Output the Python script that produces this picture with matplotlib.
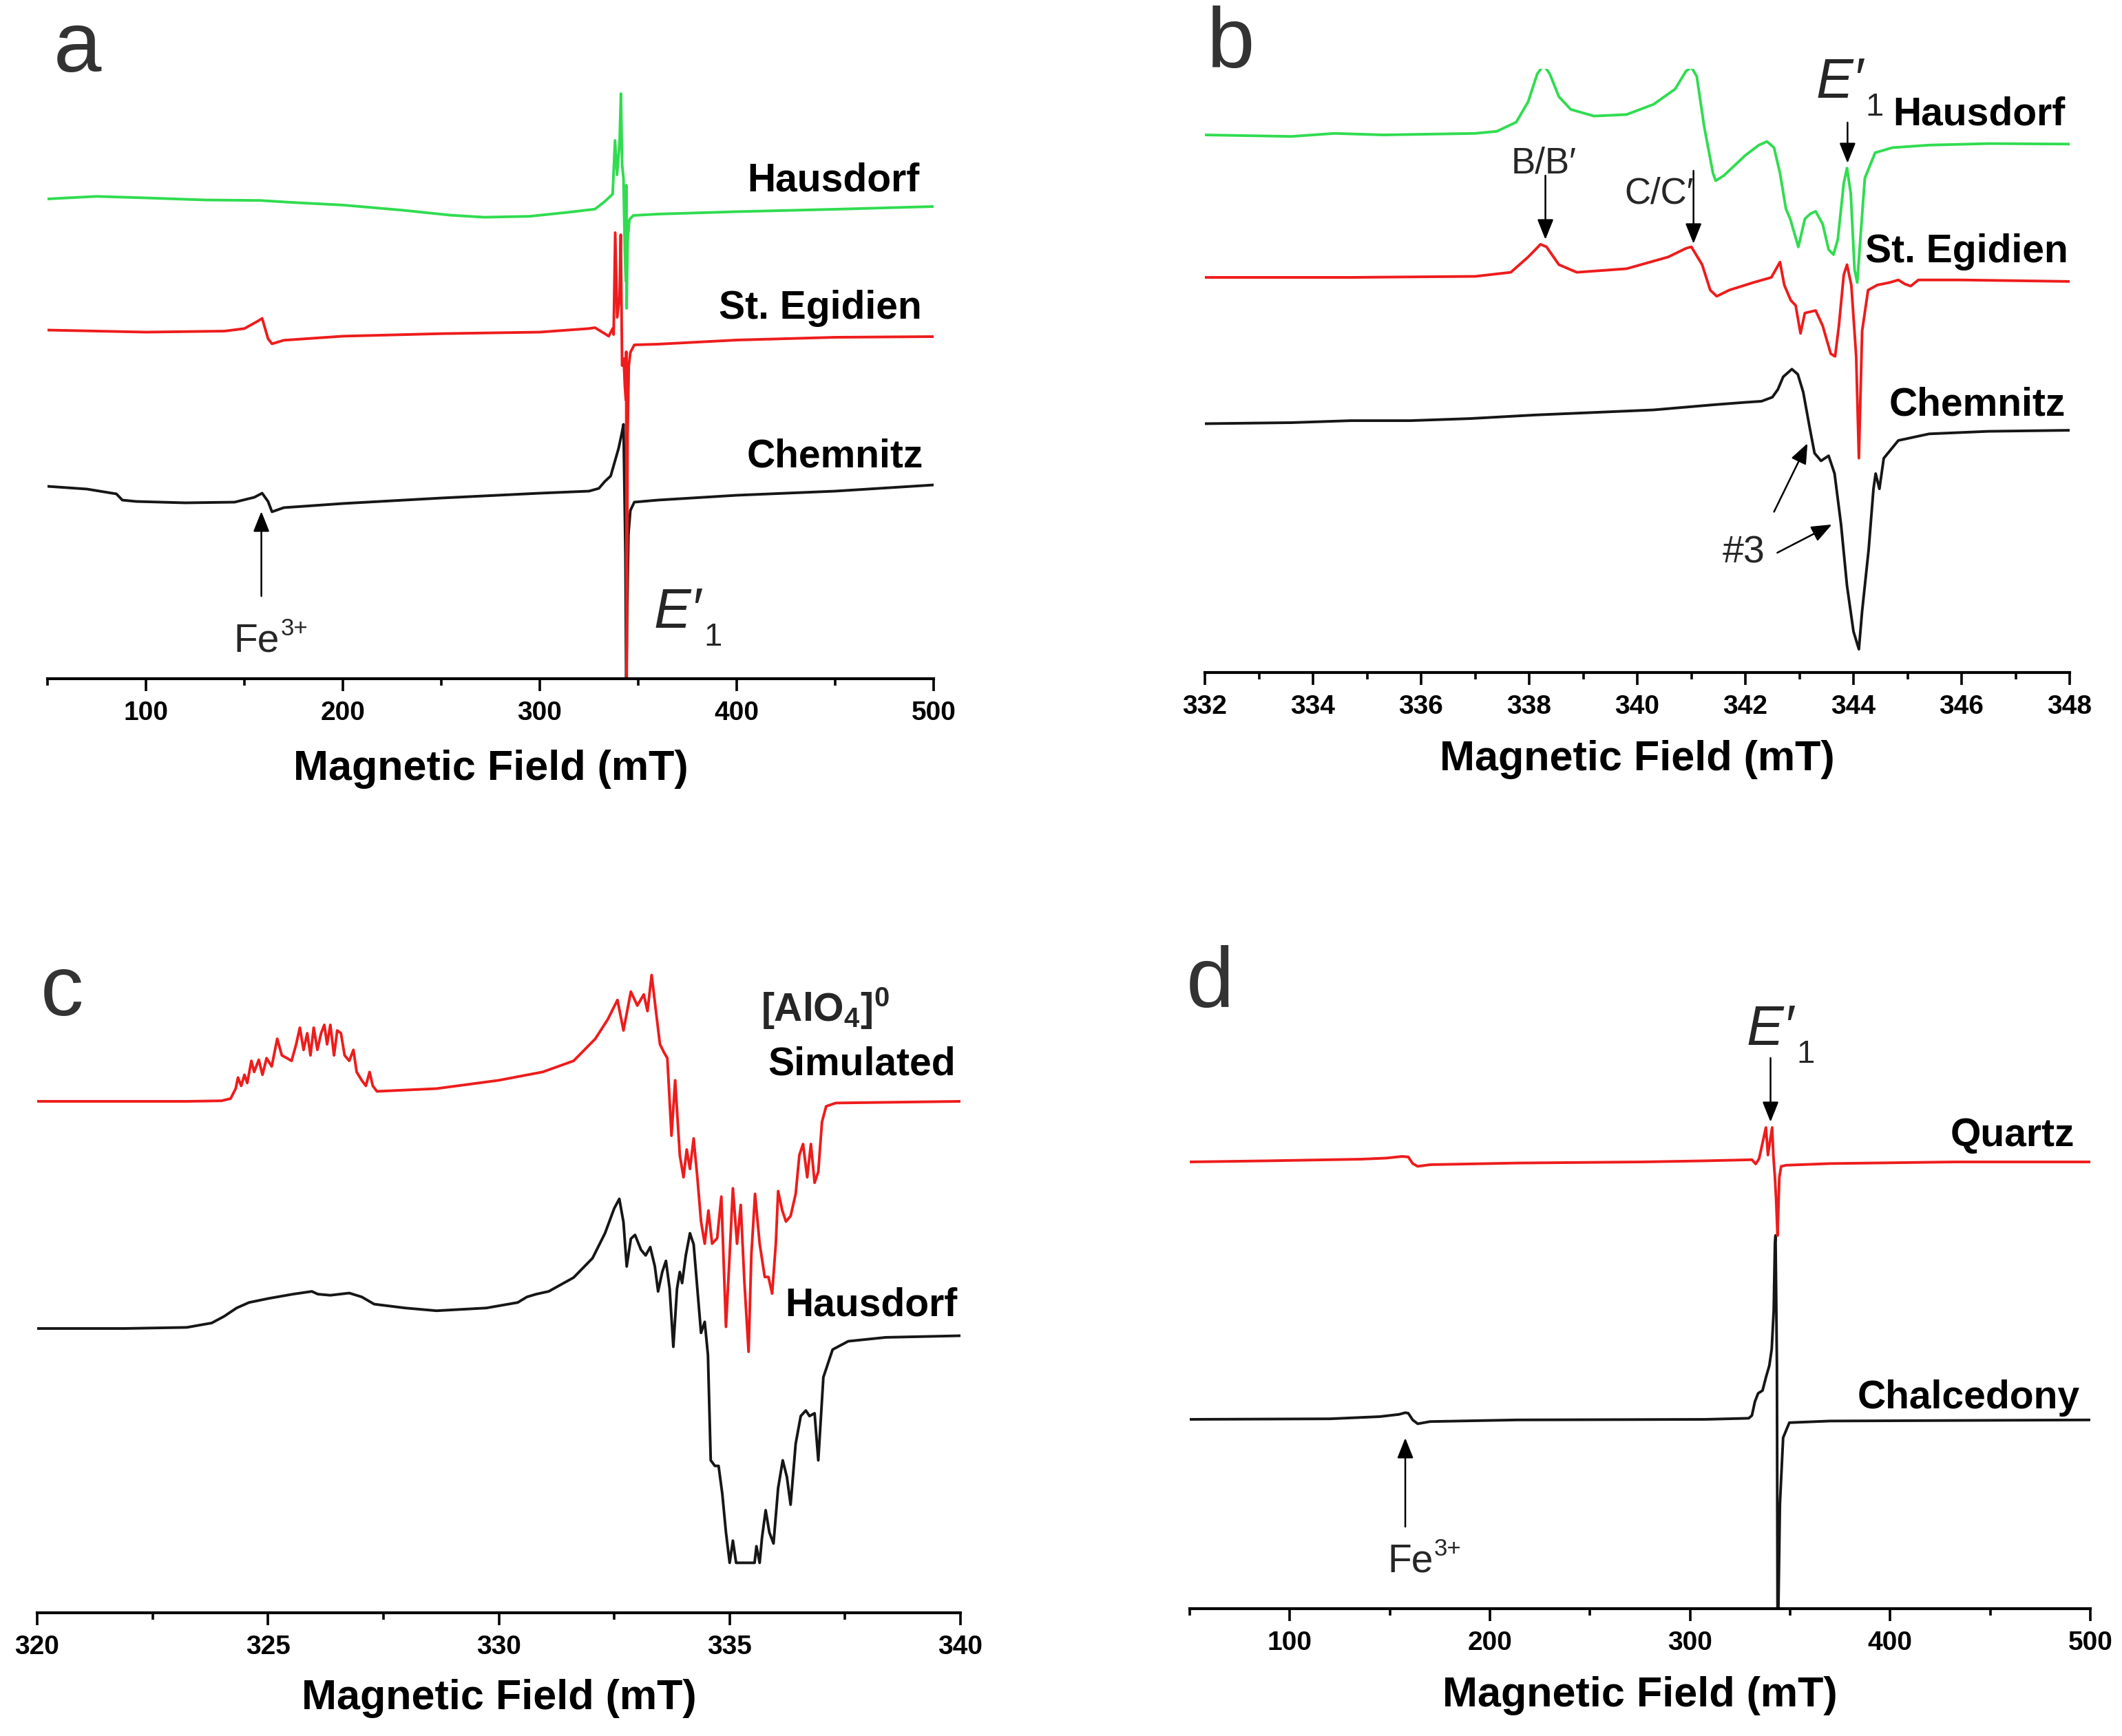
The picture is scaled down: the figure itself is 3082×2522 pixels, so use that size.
# EPR spectra: 4 panels (a-d)
import matplotlib
matplotlib.use("Agg")
import matplotlib.pyplot as plt
from matplotlib.ticker import MultipleLocator

plt.rcParams['font.family'] = ['Liberation Sans', 'DejaVu Sans']
plt.rcParams['mathtext.fontset'] = 'custom'
plt.rcParams['mathtext.rm'] = 'Liberation Sans'
plt.rcParams['mathtext.it'] = 'Liberation Sans:italic'
plt.rcParams['mathtext.bf'] = 'Liberation Sans:bold'

# ---------------- data (field in mT, intensity in a.u.) ----------------
# panel a : wide scan
a_haus_x = [50, 60, 75, 100, 130, 158, 175, 200, 230, 255, 272, 295, 315, 328, 333, 337,
            338.2, 339.2, 340.5, 341.2, 341.8, 342.5, 343.2, 343.7, 343.9, 344.1, 344.6,
            345.5, 347.5, 360, 400, 450, 500]
a_haus_y = [0, 0.15, 0.37, 0.15, -0.15, -0.22, -0.52, -0.89, -1.63, -2.37, -2.66, -2.52, -1.92,
            -1.48, -0.37, 0.7, 8.5, 3.5, 8.0, 15.3, 5.0, 3.0, -8.0, -12.0, 2.0, -15.9, -6.0,
            -3.0, -2.4, -2.2, -1.85, -1.5, -1.1]
a_egid_x = [50, 100, 140, 150, 157, 159, 162, 164, 170, 200, 250, 300, 325, 328, 333, 335, 337,
            337.5, 338.3, 339.3, 340.5, 341.1, 341.8, 342.6, 343.2, 343.7, 343.9, 344.1, 344.6,
            345.2, 346, 348, 360, 400, 450, 500]
a_egid_y = [0.15, -0.15, 0, 0.37, 1.48, 1.85, -1.1, -1.85, -1.33, -0.74, -0.37, -0.15, 0.37,
            0.5, -0.37, -0.74, 0.37, -0.5, 14.3, 2.0, 5.0, 14.0, -5.0, -4.0, -8.0, -10.0, -3.0,
            -55.0, -15.0, -5.0, -3.1, -2.0, -1.9, -1.3, -0.9, -0.8]
a_chem_x = [50, 70, 85, 88, 95, 120, 145, 155, 159, 162, 164, 170, 200, 250, 300, 325, 330,
            333, 336, 338, 340, 341.5, 342.5, 343.5, 343.9, 344.3, 345, 346, 348, 360, 400,
            450, 500]
a_chem_y = [0, -0.4, -1.1, -2.0, -2.2, -2.4, -2.3, -1.6, -1.0, -2.2, -3.7, -3.1, -2.5, -1.7,
            -1.0, -0.7, -0.3, 0.7, 1.5, 3.5, 5.5, 7.5, 9.0, -10.0, -30.0, -20.0, -7.0, -3.5,
            -2.3, -2.0, -1.3, -0.7, 0.2]

# panel b : E'1 region
b_haus_x = [332.0, 333.6, 334.4, 335.3, 337.0, 337.4, 337.76, 337.98, 338.15, 338.27, 338.38,
            338.55, 338.77, 339.2, 339.8, 340.3, 340.7, 340.9, 341.0, 341.1, 341.24, 341.4,
            341.45, 341.6, 341.8, 342.0, 342.25, 342.4, 342.53, 342.64, 342.75, 342.83,
            342.98, 343.1, 343.2, 343.3, 343.43, 343.54, 343.63, 343.71, 343.82, 343.88,
            343.95, 344.02, 344.07, 344.14, 344.21, 344.4, 344.72, 345.4, 346.5, 348.0]
b_haus_y = [0, -0.22, 0.22, 0, 0.22, 0.52, 1.85, 4.81, 8.88, 10.14, 8.88, 5.55, 3.70, 2.74,
            2.96, 4.44, 6.66, 9.25, 9.84, 8.51, 1.11, -5.55, -6.66, -5.92, -4.44, -2.96,
            -1.48, -0.96, -1.85, -5.55, -10.73, -12.21, -16.28, -12.21, -11.47, -11.10,
            -12.95, -16.65, -17.39, -15.17, -7.03, -4.81, -8.51, -19.6, -21.45, -13.69,
            -6.29, -2.59, -1.85, -1.48, -1.26, -1.33]
b_egid_x = [332, 334.7, 337.0, 337.66, 337.98, 338.21, 338.32, 338.55, 338.88, 339.8, 340.57,
            340.9, 341.0, 341.2, 341.35, 341.47, 341.7, 342.15, 342.48, 342.64, 342.72,
            342.84, 342.93, 343.02, 343.1, 343.3, 343.43, 343.58, 343.66, 343.73, 343.82,
            343.88, 343.96, 344.05, 344.1, 344.16, 344.27, 344.44, 344.67, 344.83, 344.95,
            345.06, 345.2, 346.0, 348]
b_egid_y = [0, 0, 0.15, 0.74, 2.96, 4.81, 4.44, 1.85, 0.74, 1.26, 2.96, 4.22, 4.44, 1.85,
            -1.85, -2.74, -1.85, -0.74, 0, 2.22, -1.11, -3.33, -4.07, -8.14, -5.18, -4.81,
            -7.03, -11.1, -11.47, -7.03, 0.37, 1.85, -1.11, -11.47, -26.26, -7.77, -1.85,
            -1.11, -0.74, -0.37, -0.96, -1.26, -0.37, -0.37, -0.59]
b_chem_x = [332, 333.6, 334.7, 335.8, 336.9, 338.1, 339.2, 340.3, 341.4, 342.0, 342.3, 342.5,
            342.6, 342.7, 342.86, 342.97, 343.07, 343.19, 343.28, 343.4, 343.54, 343.65,
            343.77, 343.88, 344.0, 344.1, 344.16, 344.28, 344.37, 344.41, 344.48, 344.56,
            344.83, 345.4, 346.5, 348]
b_chem_y = [0, 0.15, 0.44, 0.44, 0.74, 1.26, 1.63, 2.0, 2.74, 3.1, 3.26, 3.85, 4.96, 6.81,
            7.92, 7.18, 4.59, -0.59, -4.29, -5.4, -4.66, -7.25, -14.65, -23.53, -30.19,
            -32.77, -27.23, -18.35, -9.47, -7.25, -9.47, -5.03, -2.44, -1.48, -1.11, -0.96]

# panel c : [AlO4]0 centre, simulated vs. measured
c_sim_x = [320, 321.9, 323.24, 323.99, 324.19, 324.30, 324.35, 324.42, 324.49, 324.55, 324.64,
           324.70, 324.80, 324.88, 324.97, 325.08, 325.20, 325.30, 325.41, 325.51, 325.61,
           325.69, 325.77, 325.85, 325.92, 325.99, 326.07, 326.15, 326.22, 326.28, 326.35,
           326.43, 326.50, 326.58, 326.66, 326.76, 326.85, 326.92, 327.03, 327.12, 327.20,
           327.27, 327.36, 328.65, 330.0, 330.95, 331.62, 332.09, 332.36, 332.57, 332.70,
           332.86, 333.0, 333.14, 333.22, 333.31, 333.41, 333.49, 333.58, 333.65, 333.74,
           333.82, 333.92, 334.0, 334.07, 334.14, 334.22, 334.30, 334.38, 334.46, 334.54,
           334.62, 334.73, 334.82, 334.92, 335.0, 335.07, 335.16, 335.24, 335.32, 335.41,
           335.47, 335.55, 335.65, 335.76, 335.84, 335.92, 336.0, 336.05, 336.14, 336.22,
           336.32, 336.43, 336.51, 336.59, 336.68, 336.76, 336.84, 336.92, 337.0, 337.09,
           337.30, 340]
c_sim_y = [0, 0, 0, 0.08, 0.40, 1.85, 3.46, 2.25, 3.86, 2.66, 5.88, 4.27, 6.04, 3.86, 6.28,
           5.07, 9.09, 6.68, 6.28, 5.88, 8.29, 10.70, 7.48, 9.90, 6.68, 10.70, 7.48, 9.90,
           11.11, 8.29, 11.11, 6.68, 10.30, 9.90, 6.68, 5.88, 7.48, 4.27, 3.06, 2.25, 4.27,
           2.25, 1.45, 1.85, 3.06, 4.27, 5.88, 9.09, 11.91, 14.73, 10.30, 15.94, 13.92,
           15.53, 13.12, 18.35, 12.72, 8.29, 7.08, 6.28, -4.99, 3.06, -7.81, -11.03, -7.0,
           -9.82, -5.39, -11.03, -17.46, -20.68, -15.86, -20.68, -19.88, -13.84, -32.76,
           -22.29, -12.64, -20.68, -15.05, -26.32, -36.38, -22.29, -13.44, -20.68, -25.51,
           -25.51, -27.93, -20.68, -13.04, -15.86, -17.46, -16.66, -13.44, -7.81, -6.20,
           -11.03, -6.20, -11.83, -10.22, -2.98, -0.72, -0.24, 0]
c_haus_x = [320, 321.89, 323.24, 323.78, 324.05, 324.32, 324.59, 325.0, 325.54, 325.95, 326.08,
            326.35, 326.76, 327.03, 327.30, 327.97, 328.65, 329.73, 330.41, 330.61, 330.81,
            331.08, 331.62, 332.03, 332.30, 332.50, 332.61, 332.70, 332.77, 332.86, 332.95,
            333.08, 333.18, 333.28, 333.38, 333.45, 333.54, 333.62, 333.70, 333.78, 333.86,
            333.92, 333.97, 334.05, 334.14, 334.22, 334.30, 334.38, 334.46, 334.53, 334.59,
            334.68, 334.76, 334.84, 334.92, 335.0, 335.07, 335.14, 335.54, 335.58, 335.65,
            335.70, 335.78, 335.86, 335.95, 336.05, 336.15, 336.24, 336.32, 336.43, 336.54,
            336.65, 336.73, 336.84, 336.92, 337.03, 337.23, 337.57, 338.38, 340]
c_haus_y = [0, 0, 0.16, 0.80, 1.77, 2.98, 3.78, 4.35, 4.99, 5.39, 4.99, 4.83, 5.15, 4.59,
            3.54, 2.98, 2.58, 2.98, 3.78, 4.59, 4.99, 5.39, 7.40, 10.22, 13.84, 17.46, 18.83,
            15.45, 9.01, 13.04, 13.60, 11.43, 10.62, 11.83, 9.01, 5.39, 8.21, 9.82, 5.79,
            -2.66, 5.79, 8.21, 6.60, 10.62, 13.84, 12.23, 5.79, -0.64, 0.97, -3.86, -19.15,
            -19.96, -19.96, -23.98, -29.62, -34.04, -30.82, -34.04, -34.04, -31.63, -34.04,
            -30.42, -26.40, -29.62, -31.23, -23.18, -19.15, -21.57, -25.59, -16.74, -12.72,
            -11.91, -12.72, -12.31, -19.15, -7.08, -3.06, -1.85, -1.29, -1.05]

# panel d : quartz vs. chalcedony, wide scan
d_qtz_x = [50, 89.0, 135.8, 148.3, 156.1, 159.2, 161.4, 163.9, 170.1, 213.8, 276.3, 307.5,
           330.9, 332.8, 334.5, 337.9, 338.9, 341.0, 341.6, 342.4, 343.0, 343.7, 344.6, 345.5,
           348.0, 369.9, 432.3, 500]
d_qtz_y = [0, 0.16, 0.40, 0.56, 0.80, 0.72, -0.24, -0.64, -0.40, -0.16, 0, 0.16, 0.32, -0.3,
           0.48, 5.0, 1.0, 5.0, 1.0, -2.25, -5.47, -10.7, -2.25, -0.64, -0.48, -0.24, 0, 0]
d_chal_x = [50, 120, 145, 154.5, 157.7, 159.2, 161.4, 163.9, 170.1, 213.8, 307.5, 329.3, 330.9,
            332.4, 334.0, 336.2, 338.0, 339.6, 340.8, 341.8, 342.4, 342.7, 343.4, 343.7, 344.0,
            344.9, 346.5, 349.6, 369.9, 500]
d_chal_y = [0, 0.08, 0.40, 0.72, 0.97, 0.89, -0.08, -0.64, -0.32, -0.08, 0, 0.16, 0.56, 2.58,
            3.78, 4.19, 6.20, 7.81, 10.22, 15.86, 25.51, 26.72, 7.81, -27.36, -30.0, -12.31,
            -2.66, -0.48, -0.24, -0.08]

# vertical offsets of the stacked traces (a.u.)
a_offsets = [69.7, 50.5, 27.95]
b_offsets = [78.1, 57.4, 36.15]
c_offsets = [74.3, 41.3]
d_offsets = [64.9, 27.5]

GREEN = '#30dc50'
RED = '#ee1c1c'
BLACK = '#161616'
TXT = '#262626'

W, H = 3082, 2522
fig = plt.figure(figsize=(W / 100, H / 100), dpi=100)


def make_ax(left, right, axis_y, top, xlim, major, minor, lpad=20):
    ax = fig.add_axes([left / W, 1 - axis_y / H, (right - left) / W, (axis_y - top) / H])
    ax.set_xlim(*xlim)
    ax.set_ylim(0, (axis_y - top) / 10)
    for s in ['left', 'right', 'top']:
        ax.spines[s].set_visible(False)
    ax.spines['bottom'].set_linewidth(3)
    ax.set_yticks([])
    ax.xaxis.set_major_locator(MultipleLocator(major))
    ax.xaxis.set_minor_locator(MultipleLocator(minor))
    ax.tick_params(axis='x', which='major', direction='out', length=13, width=2.6,
                   pad=10, labelsize=28)
    ax.tick_params(axis='x', which='minor', direction='out', length=7, width=2.6)
    for lab in ax.get_xticklabels():
        lab.set_fontweight('bold')
    ax.set_xlabel('Magnetic Field (mT)', fontsize=44, fontweight='bold', labelpad=lpad)
    ax.patch.set_alpha(0)
    return ax


def trace(ax, x, y, off, color):
    ax.plot(x, [off + v for v in y], color=color, lw=2.8, solid_joinstyle='round')


def label(ax, x, y, s, size=41):
    ax.text(x, y, s, ha='right', va='center', fontsize=size, fontweight='bold', color='black')


def arrow(ax, x0, y0, x1, y1):
    ax.annotate('', xy=(x1, y1), xytext=(x0, y0),
                arrowprops=dict(arrowstyle='-|>,head_length=0.5,head_width=0.2',
                                mutation_scale=36, lw=1.8, color='black',
                                shrinkA=0, shrinkB=0))


def eprime(ax, x, y):
    ax.text(x, y, "E\u2032", fontsize=58, fontstyle='italic', color=TXT,
            ha='left', va='baseline')
    ax.annotate('1', xy=(x, y), xytext=(52, -19), textcoords='offset points',
                fontsize=34, color=TXT, ha='left', va='baseline')


def fe3(ax, x, y):
    # x = right end of "Fe"
    ax.text(x, y, 'Fe', fontsize=41, color=TXT, ha='right', va='baseline')
    ax.annotate('3+', xy=(x, y), xytext=(1, 17), textcoords='offset points',
                fontsize=25, color=TXT, ha='left', va='baseline')


# ---- panel a ----
ax = make_ax(69, 1356, 986, 100, (50, 500), 100, 50, lpad=25)
trace(ax, a_chem_x, a_chem_y, a_offsets[2], BLACK)
trace(ax, a_egid_x, a_egid_y, a_offsets[1], RED)
trace(ax, a_haus_x, a_haus_y, a_offsets[0], GREEN)
label(ax, 492.7, 72.3, 'Hausdorf')
label(ax, 494.0, 53.8, 'St. Egidien')
label(ax, 494.8, 32.2, 'Chemnitz')
arrow(ax, 158.6, 12.0, 158.6, 24.3)
fe3(ax, 167.8, 3.9)
eprime(ax, 358.0, 7.4)

# ---- panel b ----
ax = make_ax(1750, 3006, 977, 100, (332, 348), 2, 1, lpad=22)
trace(ax, b_chem_x, b_chem_y, b_offsets[2], BLACK)
trace(ax, b_egid_x, b_egid_y, b_offsets[1], RED)
trace(ax, b_haus_x, b_haus_y, b_offsets[0], GREEN)
label(ax, 347.92, 81.05, 'Hausdorf')
label(ax, 347.97, 61.1, 'St. Egidien')
label(ax, 347.92, 38.9, 'Chemnitz')
ax.text(338.27, 74.0, "B/B\u2032", fontsize=38, color=TXT, ha='center', va='center')
arrow(ax, 338.3, 72.2, 338.3, 62.9)
ax.text(340.4, 69.6, "C/C\u2032", fontsize=38, color=TXT, ha='center', va='center')
arrow(ax, 341.04, 72.9, 341.04, 62.3)
eprime(ax, 343.3, 83.5)
arrow(ax, 343.89, 79.9, 343.89, 74.0)
ax.text(341.97, 17.4, '#3', fontsize=40, color=TXT, ha='center', va='center')
arrow(ax, 342.53, 23.35, 343.15, 33.3)
arrow(ax, 342.59, 17.4, 343.6, 21.5)

# ---- panel c ----
ax = make_ax(54, 1395, 2343, 1300, (320, 340), 5, 2.5)
trace(ax, c_haus_x, c_haus_y, c_offsets[1], BLACK)
trace(ax, c_sim_x, c_sim_y, c_offsets[0], RED)
ax.text(335.67, 87.8, r'$\mathbf{[AlO}_{\mathbf{4}}\mathbf{]}^{\mathbf{0}}$', fontsize=41,
        color=TXT, ha='left', va='center')
label(ax, 339.89, 79.7, 'Simulated')
label(ax, 339.93, 44.7, 'Hausdorf')

# ---- panel d ----
ax = make_ax(1728, 3036, 2337, 1300, (50, 500), 100, 50, lpad=22)
trace(ax, d_chal_x, d_chal_y, d_offsets[1], BLACK)
trace(ax, d_qtz_x, d_qtz_y, d_offsets[0], RED)
label(ax, 492.0, 68.7, 'Quartz')
label(ax, 494.6, 30.6, 'Chalcedony')
eprime(ax, 328.3, 81.9)
arrow(ax, 340.2, 80.0, 340.2, 70.7)
arrow(ax, 157.7, 11.9, 157.7, 24.8)
fe3(ax, 171.7, 5.3)

# panel letters
for s, px, py in [('a', 78, 104), ('b', 1753, 98), ('c', 59, 1475), ('d', 1723, 1463)]:
    fig.text(px / W, 1 - py / H, s, fontsize=90, color='#333333', ha='left', va='baseline')

fig.savefig('out.png', dpi=100, facecolor='white')
